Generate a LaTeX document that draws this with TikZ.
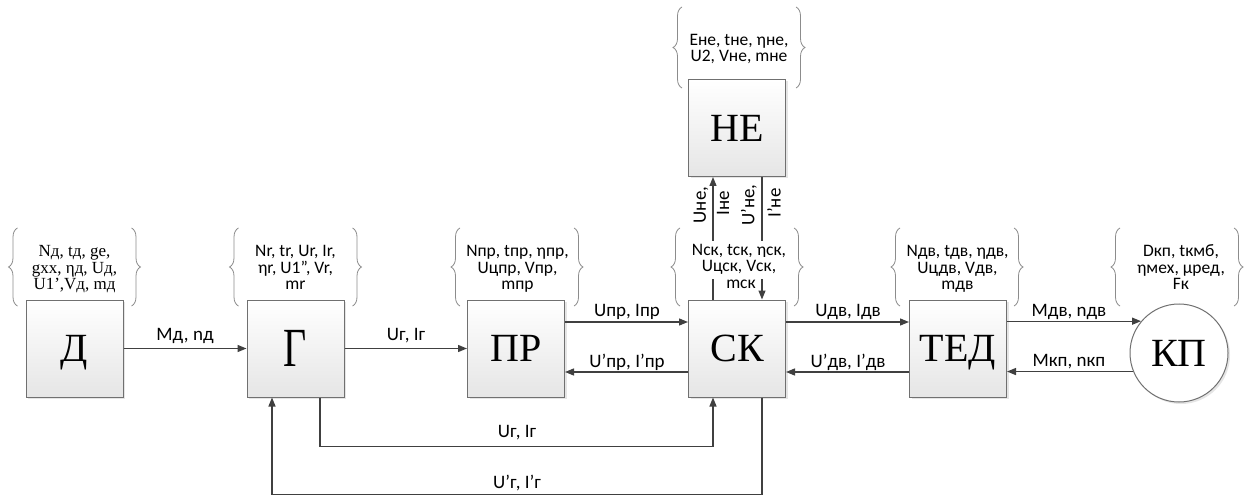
\documentclass[tikz,border=0pt]{standalone}
\usepackage{fontspec}
\usepackage{graphicx}
\setmainfont{Liberation Serif}
\setsansfont{Carlito}
\usetikzlibrary{arrows.meta,decorations.pathreplacing,shadows,calc}
\definecolor{linec}{HTML}{404040}
\definecolor{boxb}{HTML}{707070}
\definecolor{bracec}{HTML}{8C8C8C}
\tikzset{
  blk/.style={draw=boxb, line width=1pt, top color=white, bottom color=black!10,
    minimum width=97pt, minimum height=97pt, inner sep=0pt, text depth=0pt,
    font=\fontsize{40}{44}\selectfont,
    drop shadow={shadow xshift=2pt, shadow yshift=-2pt, opacity=0.2}},
  arr/.style={draw=linec, line width=1.3pt, -{Triangle[length=9pt,width=7pt]}},
  lbl/.style={font=\sffamily\fontsize{19}{21}\selectfont, inner sep=0.5pt},
  ptx/.style={font=\sffamily\fontsize{17.5}{19}\selectfont, anchor=base, inner sep=0.5pt},
  pts/.style={font=\fontsize{17}{19}\selectfont, anchor=base, inner sep=0.5pt},
  ptw/.style={ptx, fill=white, inner sep=1.5pt, text height=13pt, text depth=5pt},
  brc/.style={draw=bracec, line width=0.8pt, decorate, decoration={brace, amplitude=9pt}},
}
\begin{document}
\begin{tikzpicture}[x=1pt, y=-1pt]
\fill[white] (0,0) rectangle (1248,497);
\useasboundingbox (0,0) rectangle (1248,497);

% braces
\foreach \c in {74.5, 295.5, 517, 737, 957, 1177} {
  \draw[brc] (\c-57,306) -- (\c-57,228);
  \draw[brc] (\c+57,228) -- (\c+57,306);
}
\draw[brc] (682,88) -- (682,7);
\draw[brc] (796,7) -- (796,88);

% blocks
\node[blk] (D) at (74.5,348.5) {Д};
\node[blk] (G) at (295.5,348.5) {\scalebox{1}[1.38]{Г}};
\node[blk] (PR) at (516,348.5) {ПР};
\node[blk] (SK) at (737,348.5) {СК};
\node[blk] (TED) at (958,348.5) {ТЕД};
\node[blk] (NE) at (737,128) {НЕ};
\node[circle, draw=boxb, line width=1pt, fill=white, minimum size=98pt, inner sep=0pt,
  font=\fontsize{40}{44}\selectfont, text depth=0pt,
  drop shadow={shadow xshift=2pt, shadow yshift=-2pt, opacity=0.2}] (KP) at (1179,353) {КП};

% top row connectors
\draw[arr] (D.east) -- (G.west);
\draw[arr] (G.east) -- (PR.west);
\draw[arr] ([yshift=26.5pt]PR.east) -- ([yshift=26.5pt]SK.west);
\draw[arr] ([yshift=-23.5pt]SK.west) -- ([yshift=-23.5pt]PR.east);
\draw[arr] ([yshift=26.5pt]SK.east) -- ([yshift=26.5pt]TED.west);
\draw[arr] ([yshift=-23.5pt]TED.west) -- ([yshift=-23.5pt]SK.east);
\draw[arr] (TED.east |- KP.140.8) -- (KP.140.8);
\draw[arr] (KP.202.8) -- (TED.east |- KP.202.8);

% SK <-> NE
\draw[arr] ([xshift=-24pt]SK.north) -- ([xshift=-24pt]NE.south);
\draw[arr] ([xshift=25pt]NE.south) -- ([xshift=25pt]SK.north);

% lower loops
\draw[arr] ([xshift=24.5pt]G.south) -- ++(0,49) -| ([xshift=-24pt]SK.south);
\draw[arr] ([xshift=25pt]SK.south) -- ++(0,97) -| ([xshift=-23.5pt]G.south);

% connector labels
\node[lbl] (lmd) at (185,336) {Mд, nд};
\node[lbl] (lug) at (406,336) {Uг, Iг};
\node[lbl] (lupr) at (627,312) {Uпр, Iпр};
\node[lbl] (lupr2) at (627,362) {U’пр, I’пр};
\node[lbl] (ludv) at (848,312) {Uдв, Iдв};
\node[lbl] (ludv2) at (848,362) {U’дв, I’дв};
\node[lbl] (lmdv) at (1069,312) {Mдв, nдв};
\node[lbl] (lmkp) at (1069,362) {Mкп, nкп};
\node[lbl] (lug2) at (517,433) {Uг, Iг};
\node[lbl] (lug3) at (517,483) {U’г, I’г};
\node[lbl, rotate=90] (lune) at (701,205) {Uне,};
\node[lbl, rotate=90] (line) at (723,203) {Iне};
\node[lbl, rotate=90] (lune2) at (749,205) {U’не,};
\node[lbl, rotate=90] (line2) at (774,203) {I’не};

% parameter groups
\node[pts] (d1) at (74.5,257) {Nд, tд, ge,};
\node[pts] (d2) at (74.5,273) {gxx, ηд, Uд,};
\node[pts] (d3) at (74.5,289) {U1’,Vд, mд};

\node[ptx] (g1) at (295.5,257) {Nr, tr, Ur, Ir,};
\node[ptx] (g2) at (295.5,273) {ηr, U1”, Vr,};
\node[ptx] (g3) at (295.5,289) {mr};

\node[ptx] (p1) at (517.5,257) {Nпр, tпр, ηпр,};
\node[ptx] (p2) at (517.5,273) {Uцпр, Vпр,};
\node[ptx] (p3) at (517.5,289) {mпр};

\node[ptw] (s1) at (739,256) {Nск, tск, ηск,};
\node[ptw] (s2) at (739,272) {Uцск, Vск,};
\node[ptx] (s3) at (741,288) {mск};

\node[ptx] (t1) at (957.5,257) {Nдв, tдв, ηдв,};
\node[ptx] (t2) at (957.5,273) {Uцдв, Vдв,};
\node[ptx] (t3) at (957.5,289) {mдв};

\node[ptx] (k1) at (1181,257) {Dкп, tкмб,};
\node[ptx] (k2) at (1181,273) {ηмех, μред,};
\node[ptx] (k3) at (1181,289) {Fк};

\node[ptx] (n1) at (739,46) {Eне, tне, ηне,};
\node[ptx] (n2) at (739,62) {U2, Vне, mне};
\end{tikzpicture}
\end{document}
